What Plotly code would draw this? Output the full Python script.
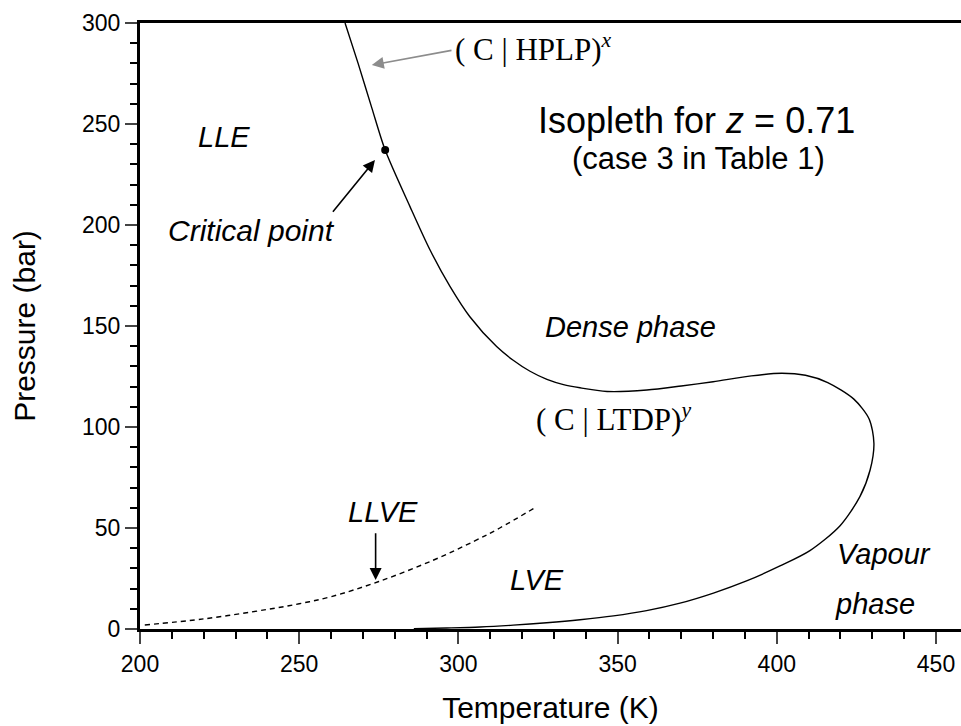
import plotly.graph_objects as go

# ---- data ----
iso_T = [264.4, 268.5, 272.8, 277.0, 284.8, 291.1, 297.4, 303.6, 312.0, 317.1, 322.5, 327.8,
         333.0, 338.2, 346.7, 359.2, 370.0, 380.0, 392.0, 401.5, 409.0, 416.0, 424.2, 429.0, 430.5,
         429.3, 426.1, 419.8, 410.4, 401.0, 390.5, 380.1, 369.6, 359.1, 348.7, 338.2, 327.7,
         317.2, 306.8, 296.3, 286.0]
iso_P = [300.0, 280.0, 258.0, 237.1, 209.1, 187.6, 169.5, 154.6, 139.8, 133.2, 127.6, 123.6,
         121.0, 119.4, 117.6, 118.3, 120.3, 122.4, 125.3, 126.6, 125.6, 122.0, 113.8, 104.0, 92.0,
         78.7, 65.5, 51.0, 38.8, 31.2, 23.8, 17.8, 12.8, 9.1, 6.5, 4.6, 3.1,
         1.9, 1.0, 0.5, 0.1]
llve_T = [201.5, 220.0, 240.0, 250.0, 260.0, 275.0, 292.0, 305.0, 313.0, 324.0]
llve_P = [2.0, 5.0, 9.7, 12.5, 16.0, 23.5, 34.0, 43.5, 50.0, 60.0]
crit_T = [277.0]
crit_P = [237.1]

x_ticks = [200, 250, 300, 350, 400, 450]
y_ticks = [0, 50, 100, 150, 200, 250, 300]

SANS = "Liberation Sans, Arial, sans-serif"
SERIF = "Liberation Serif, Times New Roman, serif"

fig = go.Figure()
fig.add_trace(go.Scatter(x=iso_T, y=iso_P, mode="lines", line=dict(color="black", width=1.4, shape="spline", smoothing=0.8),
                         hoverinfo="skip", showlegend=False))
fig.add_trace(go.Scatter(x=llve_T, y=llve_P, mode="lines", line=dict(color="black", width=1.4, dash="5px,4px", shape="spline"),
                         hoverinfo="skip", showlegend=False))
fig.add_trace(go.Scatter(x=crit_T, y=crit_P, mode="markers", marker=dict(color="black", size=8),
                         hoverinfo="skip", showlegend=False))

def txt(x, y, t, size=29, italic=True, font=SANS, xanchor="center"):
    fig.add_annotation(x=x, y=y, text=(f"<i>{t}</i>" if italic else t), showarrow=False,
                       font=dict(family=font, size=size, color="black"), xanchor=xanchor, yanchor="middle")

txt(226.4, 243.7, "LLE")
txt(235.1, 197.5, "Critical point", size=30)
txt(354.2, 149.7, "Dense phase")
txt(276.2, 57.9, "LLVE")
txt(324.8, 24.3, "LVE")
txt(418.3, 37.0, "Vapour", xanchor="left")
txt(417.6, 12.5, "phase", xanchor="left")
txt(374.9, 251.5, "Isopleth for <i>z</i> = 0.71", size=36, italic=False)
txt(375.3, 232.7, "(case 3 in Table 1)", size=31, italic=False)
txt(298.3, 288.1, "( C | HPLP)<sup><i>x</i></sup>", size=31, italic=False, font=SERIF, xanchor="left")
txt(323.7, 104.5, "( C | LTDP)<sup><i>y</i></sup>", size=31, italic=False, font=SERIF, xanchor="left")

def arrow(x, y, ax, ay, color="black"):
    fig.add_annotation(x=x, y=y, ax=ax, ay=ay, axref="x", ayref="y", text="", showarrow=True,
                       arrowhead=2, arrowsize=1.5, arrowwidth=1.6, arrowcolor=color, standoff=0)

arrow(273.8, 232.2, 260.2, 205.8)
arrow(272.8, 279.2, 298.3, 286.6, color="#8c8c8c")
arrow(274.0, 24.3, 274.0, 48.2)

fig.update_xaxes(range=[200, 457.85], tickvals=x_ticks, ticks="outside", ticklen=12, tickwidth=2,
                 showline=True, linewidth=3, linecolor="black", mirror=True, showgrid=False, zeroline=False,
                 tickfont=dict(family=SANS, size=23, color="black"),
                 minor=dict(dtick=10, tick0=200, ticks="outside", ticklen=7, tickwidth=2, tickcolor="black", showgrid=False),
                 title=dict(text="Temperature (K)", font=dict(family=SANS, size=30, color="black"), standoff=22))
fig.update_yaxes(range=[0, 300], tickvals=y_ticks, ticks="outside", ticklen=12, tickwidth=2,
                 showline=True, linewidth=3, linecolor="black", showgrid=False, zeroline=False,
                 tickfont=dict(family=SANS, size=23, color="black"),
                 minor=dict(dtick=10, tick0=0, ticks="outside", ticklen=7, tickwidth=2, tickcolor="black", showgrid=False),
                 title=dict(text="Pressure (bar)", font=dict(family=SANS, size=30, color="black"), standoff=38))

fig.update_layout(width=961, height=726, margin=dict(l=140, r=0, t=23, b=97),
                  plot_bgcolor="white", paper_bgcolor="white", showlegend=False)

fig.write_html("out.html")
